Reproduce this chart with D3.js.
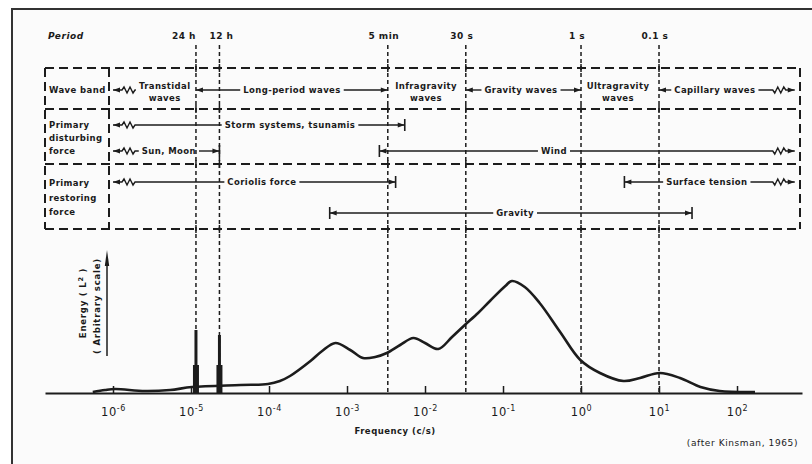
<!DOCTYPE html>
<html><head><meta charset="utf-8">
<script src="https://cdn.jsdelivr.net/npm/d3@7/dist/d3.min.js"></script>
<style>
html,body{margin:0;padding:0;background:#fff;}
svg text{font-family:"DejaVu Sans",sans-serif;fill:#1a1a1a;}
</style></head>
<body><svg id="c" width="812" height="464"></svg>
<script>
// ---------- data ----------
const freq = [5.5e-7,7.9e-7,1.06e-6,2.57e-6,5.4e-6,1.03e-5,4.3e-5,9.7e-5,1.38e-4,1.86e-4,3.4e-4,4.8e-4,7.1e-4,1.1e-3,1.6e-3,2.3e-3,3.24e-3,4.8e-3,7.1e-3,1e-2,1.48e-2,2.22e-2,3.24e-2,4.79e-2,6.8e-2,1.07e-1,1.3e-1,1.9e-1,2.95e-1,5.4e-1,9.8e-1,1.75,3.5,5.7,10.2,18.6,34,60,170];
const energy = [1,3,4,2,3,6,8,9,12,17,32,42,50,43,35,36,40,48,55,50,44,56,68,80,92,107,112,106,90,61,33,20,12,15,20,15,6,2,1];
const tidePeriods = [86400, 43200];          // s
const tideEnergy = [63, 58];
const periodSec = [86400, 43200, 300, 30, 1, 0.1];
const periodLabels = ["24 h", "12 h", "5 min", "30 s", "1 s", "0.1 s"];
const tickExp = [-6,-5,-4,-3,-2,-1,0,1,2];
const rowLabels = [["Wave band"],["Primary","disturbing","force"],["Primary","restoring","force"]];
// spans: label lines, from/to freq (c/s), label centre freq, end styles
const waveBand = [
  {label:["Transtidal","waves"], from:1e-6, to:null, at:4.6e-6, left:"break", right:"none"},
  {label:["Long-period waves"], from:1/86400, to:1/300, at:1.97e-4, left:"arrow", right:"arrow"},
  {label:["Infragravity","waves"], from:null, to:null, at:1.03e-2, left:"none", right:"none"},
  {label:["Gravity waves"], from:1/30, to:1, at:0.17, left:"arrow", right:"arrow"},
  {label:["Ultragravity","waves"], from:null, to:null, at:2.98, left:"none", right:"none"},
  {label:["Capillary waves"], from:10, to:550, at:52, left:"arrow", right:"break"}
];
const disturbing = [
  {label:["Storm systems, tsunamis"], from:1e-6, to:5.5e-3, at:1.86e-4, left:"break", right:"bar", line:0},
  {label:["Sun, Moon"], from:1e-6, to:1/43200, at:5.2e-6, left:"break", right:"bar", line:1},
  {label:["Wind"], from:2.6e-3, to:550, at:0.45, left:"bar", right:"break", line:1}
];
const restoring = [
  {label:["Coriolis force"], from:1e-6, to:4.2e-3, at:8.1e-5, left:"break", right:"bar", line:0},
  {label:["Surface tension"], from:3.6, to:550, at:41, left:"bar", right:"break", line:0},
  {label:["Gravity"], from:6e-4, to:26.5, at:0.143, left:"bar", right:"bar", line:1}
];

// ---------- layout ----------
const svg = d3.select("#c");
const ink = "#1c1c1c";
const axisY = 393;
const X = d3.scaleLog().domain([1.343e-7, 681]).range([45, 802]);
const Y = d3.scaleLinear().domain([0, 112]).range([axisY, 281]);

// frame & paper
svg.append("rect").attr("x",12).attr("y",9).attr("width",812).attr("height",470)
  .attr("fill","#fbfbfb").attr("stroke","#333").attr("stroke-width",2);

const tbl = {x0:45, x1:800, y0:68, y1:229, r1:109, r2:164, col:109};
const dash = "9,5";

// period dashed verticals
periodSec.forEach((T,i)=>{
  const x = X(1/T);
  svg.append("line").attr("x1",x).attr("x2",x).attr("y1",45).attr("y2",axisY)
    .attr("stroke",ink).attr("stroke-width",1.5).attr("stroke-dasharray","4,3");
  [tbl.y0,tbl.r1,tbl.r2,tbl.y1].forEach(yy=>{
    svg.append("line").attr("x1",x).attr("x2",x).attr("y1",yy-4).attr("y2",yy+4)
      .attr("stroke",ink).attr("stroke-width",1.5);
  });
  svg.append("text").attr("x", x + (i===0 ? -12 : (i===1 ? 2 : -4))).attr("y",39)
    .attr("text-anchor","middle").attr("font-size",9).attr("font-weight","bold")
    .attr("letter-spacing",0.5).text(periodLabels[i]);
});
svg.append("text").attr("x",48).attr("y",39).attr("font-size",9).attr("font-weight","bold")
  .attr("font-style","italic").attr("letter-spacing",0.5).text("Period");

// table dashed box
const tg = svg.append("g").attr("stroke",ink).attr("stroke-width",2).attr("stroke-dasharray",dash).attr("fill","none");
[tbl.y0,tbl.r1,tbl.r2,tbl.y1].forEach(yy=>tg.append("line").attr("x1",tbl.x0).attr("x2",tbl.x1).attr("y1",yy).attr("y2",yy));
[tbl.x0,tbl.col,tbl.x1].forEach(xx=>tg.append("line").attr("x1",xx).attr("x2",xx).attr("y1",tbl.y0).attr("y2",tbl.y1));

// row labels
const rowBase = [[93],[128,141,154],[186,201,215]];
rowLabels.forEach((lines,r)=>{
  lines.forEach((s,k)=>{
    svg.append("text").attr("x",49).attr("y",rowBase[r][k]).attr("font-size",8.5)
      .attr("font-weight","bold").attr("letter-spacing",0.4).text(s);
  });
});

// span drawing
function arrowHead(g,x,y,dir){ // dir -1 points left, +1 right
  g.append("path").attr("d",`M${x},${y}L${x-dir*7},${y-2.5}L${x-dir*7},${y+2.5}Z`).attr("fill",ink);
}
function segment(g,xa,xb,y,style,side){ // xa = outer end, xb = inner end
  const dir = side==="left" ? 1 : -1;
  let d;
  if(style==="break"){
    const z = xa + dir*9;
    d = `M${xa},${y}L${z},${y}l${dir*2},-3l${dir*3},6l${dir*3},-6l${dir*3},6l${dir*2},-3L${xb},${y}`;
  } else d = `M${xa},${y}L${xb},${y}`;
  g.append("path").attr("d",d).attr("fill","none").attr("stroke",ink).attr("stroke-width",1.4);
  if(style!=="none") arrowHead(g,xa,y,-dir);
  if(style==="bar") g.append("line").attr("x1",xa).attr("x2",xa).attr("y1",y-6).attr("y2",y+6)
    .attr("stroke",ink).attr("stroke-width",1.6);
}
function drawSpan(s,y){
  const g = svg.append("g");
  const xm = X(s.at);
  let w = 0;
  const n = s.label.length;
  s.label.forEach((ln,k)=>{
    const t = g.append("text").attr("x",xm).attr("y", y + 3 + (n>1 ? (k===0?-4:8) : 0))
      .attr("text-anchor","middle").attr("font-size",8.5).attr("font-weight","bold")
      .attr("letter-spacing",0.4).text(ln);
    if(k===0) w = t.node().getComputedTextLength();
  });
  const tl = xm - w/2 - 3, tr = xm + w/2 + 3;
  if(s.from!==null && s.left!=="none") segment(g, X(s.from), tl, y, s.left, "left");
  if(s.to!==null && s.right!=="none") segment(g, X(s.to), tr, y, s.right, "right");
}
waveBand.forEach(s=>drawSpan(s,90));
disturbing.forEach(s=>drawSpan(s,[125,151][s.line]));
restoring.forEach(s=>drawSpan(s,[182,213][s.line]));

// axis
const ax = svg.append("g").attr("transform",`translate(0,${axisY})`)
  .call(d3.axisBottom(X).tickValues(tickExp.map(e=>Math.pow(10,e))).tickSize(-7).tickSizeOuter(0).tickFormat(""));
ax.select(".domain").attr("stroke",ink).attr("stroke-width",2);
ax.selectAll(".tick line").attr("stroke",ink).attr("stroke-width",1.5);
ax.selectAll(".tick").each(function(d,i){
  const t = d3.select(this).append("text").attr("y",23).attr("text-anchor","middle")
    .attr("font-size",11.5).attr("fill",ink).attr("letter-spacing",0.6);
  t.append("tspan").text("10");
  t.append("tspan").attr("dy",-5).attr("font-size",8).text(tickExp[i] < 0 ? "-"+(-tickExp[i]) : String(tickExp[i]));
});
svg.append("text").attr("x",395).attr("y",434).attr("text-anchor","middle").attr("font-size",8.5)
  .attr("font-weight","bold").attr("letter-spacing",0.5).text("Frequency (c/s)");
svg.append("text").attr("x",798).attr("y",446).attr("text-anchor","end").attr("font-size",9)
  .attr("letter-spacing",0.6).text("(after Kinsman, 1965)");

// y label
svg.append("text").attr("transform","translate(86,303) rotate(-90)").attr("text-anchor","middle")
  .attr("font-size",8.5).attr("font-weight","bold").attr("letter-spacing",0.8)
  .call(t=>{t.append("tspan").text("Energy ( L"); t.append("tspan").attr("dy",-3).attr("font-size",6.5).text("2");
            t.append("tspan").attr("dy",3).text(" )");});
svg.append("text").attr("transform","translate(100,306) rotate(-90)").attr("text-anchor","middle")
  .attr("font-size",8.5).attr("font-weight","bold").attr("letter-spacing",0.8).text("( Arbitrary scale)");
svg.append("line").attr("x1",107).attr("x2",107).attr("y1",356).attr("y2",262).attr("stroke",ink).attr("stroke-width",1.5);
svg.append("path").attr("d","M107,250L104.8,266L109.2,266Z").attr("fill",ink);

// tide spikes
tidePeriods.forEach((T,i)=>{
  const x = X(1/T);
  svg.append("line").attr("x1",x).attr("x2",x).attr("y1",axisY).attr("y2",Y(tideEnergy[i]))
    .attr("stroke",ink).attr("stroke-width",3);
  svg.append("line").attr("x1",x).attr("x2",x).attr("y1",axisY).attr("y2",Y(28))
    .attr("stroke",ink).attr("stroke-width",6);
});

// spectrum
const pts = freq.map((f,i)=>[f,energy[i]]);
svg.append("path").datum(pts)
  .attr("d", d3.line().x(d=>X(d[0])).y(d=>Y(d[1])).curve(d3.curveCatmullRom.alpha(0.5)))
  .attr("fill","none").attr("stroke",ink).attr("stroke-width",2.6).attr("stroke-linejoin","round");
</script></body></html>
